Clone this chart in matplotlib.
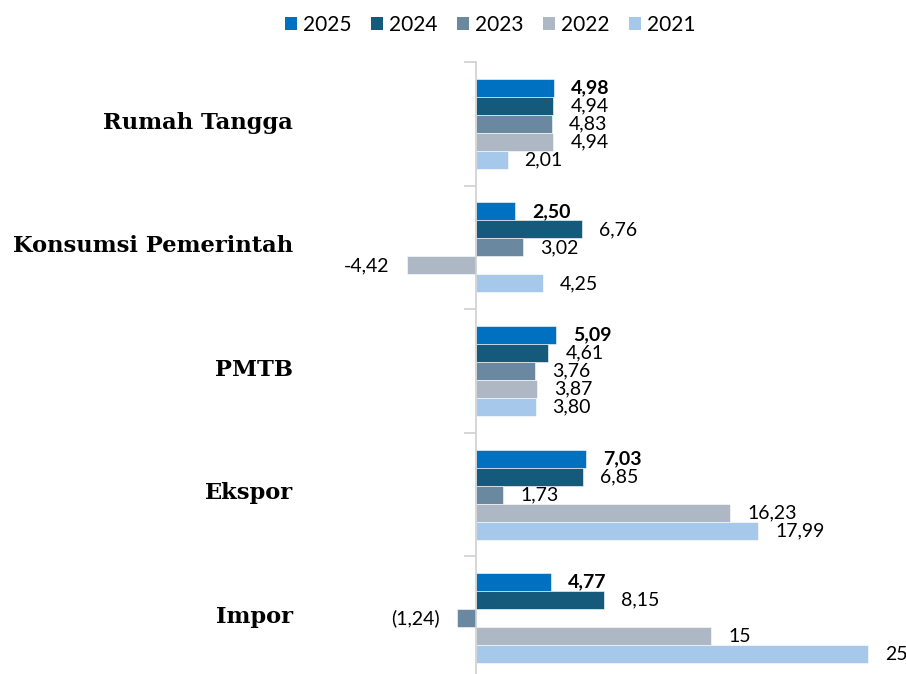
import matplotlib
matplotlib.use("Agg")
import matplotlib.pyplot as plt
from matplotlib.patches import Patch
import numpy as np

categories = ["Rumah Tangga", "Konsumsi Pemerintah", "PMTB", "Ekspor", "Impor"]
years = ["2025", "2024", "2023", "2022", "2021"]
v2025 = [4.98, 2.50, 5.09, 7.03, 4.77]
v2024 = [4.94, 6.76, 4.61, 6.85, 8.15]
v2023 = [4.83, 3.02, 3.76, 1.73, -1.24]
v2022 = [4.94, -4.42, 3.87, 16.23, 15]
v2021 = [2.01, 4.25, 3.80, 17.99, 25]
l2025 = ["4,98", "2,50", "5,09", "7,03", "4,77"]
l2024 = ["4,94", "6,76", "4,61", "6,85", "8,15"]
l2023 = ["4,83", "3,02", "3,76", "1,73", "(1,24)"]
l2022 = ["4,94", "-4,42", "3,87", "16,23", "15"]
l2021 = ["2,01", "4,25", "3,80", "17,99", "25"]

series = [v2025, v2024, v2023, v2022, v2021]
labels = [l2025, l2024, l2023, l2022, l2021]
colors = ["#0070C0", "#165A7B", "#6A88A0", "#ADB8C4", "#A6C9EB"]

W, H = 906, 674
fig = plt.figure(figsize=(W / 100, H / 100), dpi=100)
ax_top, ax_bot = 62, 680
ax = fig.add_axes([0, (H - ax_bot) / H, 1, (ax_bot - ax_top) / H])
ax.patch.set_alpha(0)

x0_px = 476
scale = 15.68
ax.set_xlim(-x0_px / scale, (W - x0_px) / scale)
n = len(categories)
ax.set_ylim(n - 0.5, -0.5)

bh = 18 / 123.6
y = np.arange(n)
dfont = "Lato"
for k, (vals, labs, c) in enumerate(zip(series, labels, colors)):
    yy = y + (k - 2) * bh
    ax.barh(yy, vals, height=bh, color=c, edgecolor="white", linewidth=0.4)
    for yi, v, s in zip(yy, vals, labs):
        off = 17 / scale
        if v >= 0:
            ax.text(v + off, yi, s, ha="left", va="center", fontsize=14,
                    family=dfont, fontweight="bold" if k == 0 else "normal",
                    color="black")
        else:
            ax.text(v - off, yi, s, ha="right", va="center", fontsize=14,
                    family=dfont, color="black")

for i, cat in enumerate(categories):
    ax.text((293 - x0_px) / scale, i - 0.01, cat, ha="right", va="center",
            fontsize=16.3, family="DejaVu Serif", fontweight="bold")

for s in ["top", "right", "bottom"]:
    ax.spines[s].set_visible(False)
ax.spines["left"].set_position(("data", 0))
ax.spines["left"].set_color("#D0D0D0")
ax.spines["left"].set_linewidth(1.2)
ax.set_xticks([])
ax.set_yticks(np.arange(-0.5, n, 1.0))
ax.set_yticklabels([])
ax.tick_params(axis="y", direction="out", length=9, color="#D0D0D0", width=1.2)

handles = [Patch(facecolor=c, edgecolor="none") for c in colors]
fig.legend(handles, years, loc="center", bbox_to_anchor=(490 / W, 1 - 25 / H),
           ncol=5, frameon=False, prop={"family": "Lato", "size": 15},
           handlelength=0.6, handleheight=0.6, handletextpad=0.25,
           columnspacing=0.95, borderpad=0)

fig.savefig("out.png", dpi=100)
